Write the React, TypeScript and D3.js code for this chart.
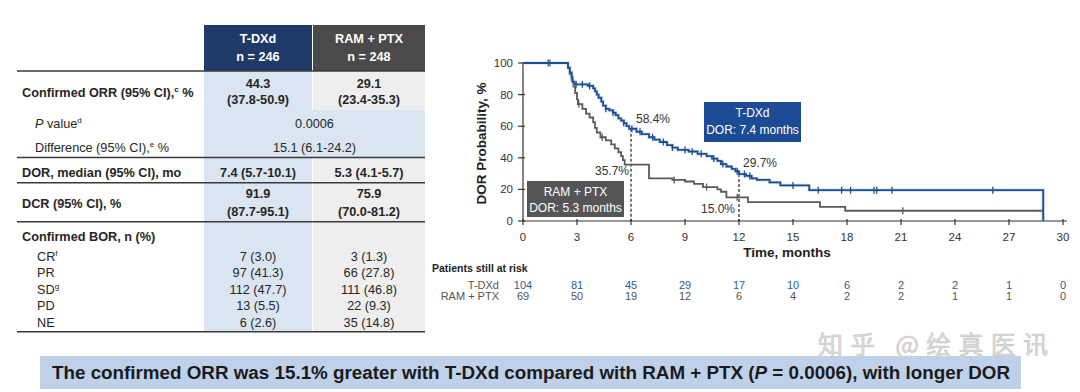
import React from "react";
import * as d3 from "d3";

// ---------- data ----------
const monthTicks = [0, 3, 6, 9, 12, 15, 18, 21, 24, 27, 30];
const probTicks = [0, 20, 40, 60, 80, 100];

// [time (months), DOR probability (%) after the step]
const tdxdSteps: [number, number][] = [
  [0, 100], [2.5, 97], [2.6, 94], [2.7, 91], [2.75, 88], [2.85, 86.5], [3.6, 85.5], [3.9, 84],
  [4.0, 82], [4.1, 80], [4.2, 78], [4.35, 75.5], [4.45, 73], [4.6, 71], [4.8, 70], [5.0, 68.5],
  [5.15, 67], [5.3, 65], [5.45, 63.5], [5.6, 62], [5.75, 60], [5.9, 58.4], [6.3, 56.5], [6.6, 55],
  [7.0, 53], [7.3, 51.5], [7.6, 50], [8.0, 48], [8.3, 46.5], [8.6, 45], [9.2, 44], [9.7, 42.5],
  [10.2, 41], [10.5, 39.5], [10.8, 38], [11.0, 36], [11.3, 34.5], [11.6, 33], [11.8, 31.5],
  [12.0, 29.7], [12.4, 28.5], [12.7, 27], [13.0, 26], [13.7, 24.5], [14.3, 22.5], [15.9, 19.5],
  [28.9, 0],
];
const ramSteps: [number, number][] = [
  [0, 100], [2.5, 97], [2.6, 93], [2.7, 89], [2.8, 85], [2.9, 81], [3.0, 77], [3.05, 74],
  [3.3, 71], [3.5, 68], [3.7, 65.5], [3.9, 62.5], [4.0, 59], [4.1, 56], [4.3, 53], [4.6, 51],
  [4.9, 48.5], [5.1, 46], [5.3, 43.5], [5.45, 41], [5.55, 38.5], [5.65, 35.7], [7.0, 27],
  [8.3, 26], [9.0, 25], [9.5, 23.5], [10.0, 21.5], [10.8, 20], [11.0, 18.5], [11.3, 15.0],
  [12.5, 12], [16.5, 9], [17.9, 6.5], [28.9, 6.5],
];
const tdxdCensor = [1.4, 2.95, 3.3, 3.7, 4.6, 5.0, 5.6, 6.05, 6.5, 7.2, 7.8, 8.3, 9.0, 9.4, 9.9,
  10.6, 11.1, 11.9, 12.3, 12.6, 15.0, 16.4, 17.7, 18.2, 19.5, 19.65, 20.5, 26.1];
const ramCensor = [1.5, 3.1, 4.4, 8.4, 10.2, 11.9, 21.1, 28.9];

const riskTdxd = [104, 81, 45, 29, 17, 10, 6, 2, 2, 1, 0];
const riskRam = [69, 50, 19, 12, 6, 4, 2, 2, 1, 1, 0];

const landmarks = [
  { t: 6, tdxd: 58.4, ram: 35.7 },
  { t: 12, tdxd: 29.7, ram: 15.0 },
];

const armHeaders = [
  { name: "T-DXd", n: "n = 246" },
  { name: "RAM + PTX", n: "n = 248" },
];
const orrValues = [["44.3", "(37.8-50.9)"], ["29.1", "(23.4-35.3)"]];
const pValue = "0.0006";
const orrDiff = "15.1 (6.1-24.2)";
const dorValues = ["7.4 (5.7-10.1)", "5.3 (4.1-5.7)"];
const dcrValues = [["91.9", "(87.7-95.1)"], ["75.9", "(70.0-81.2)"]];
const borRows = [
  { label: "CR", sup: "f", v: ["7 (3.0)", "3 (1.3)"] },
  { label: "PR", sup: "", v: ["97 (41.3)", "66 (27.8)"] },
  { label: "SD", sup: "g", v: ["112 (47.7)", "111 (46.8)"] },
  { label: "PD", sup: "", v: ["13 (5.5)", "22 (9.3)"] },
  { label: "NE", sup: "", v: ["6 (2.6)", "35 (14.8)"] },
];

// ---------- styles ----------
const FONT = "'Liberation Sans', Arial, Helvetica, sans-serif";
const NAVY = "#1f3a68";
const DARKGRAY = "#4a4a4a";
const BLUE = "#1f4f93";
const GRAY = "#5a5a5a";
const TXT = "#262626";

function survAt(steps: [number, number][], t: number) {
  let v = steps[0][1];
  for (const s of steps) {
    if (s[0] <= t) v = s[1];
    else break;
  }
  return v;
}

export default function App() {
  const x = d3.scaleLinear().domain([0, 30]).range([523, 1063]);
  const y = d3.scaleLinear().domain([0, 100]).range([221, 63]);
  const line = d3
    .line<[number, number]>()
    .x((d) => x(d[0]))
    .y((d) => y(d[1]))
    .curve(d3.curveStepAfter);

  // table geometry
  const c1 = [204, 312];
  const c2 = [313, 425];
  const cx = [(c1[0] + c1[1]) / 2, (c2[0] + c2[1]) / 2];
  const mergedCx = (c1[0] + c2[1]) / 2;
  const hLines = [71, 157.5, 182.7, 221.7, 331.7];
  const borY = [260.5, 277, 293.5, 310, 326.5];

  return (
    <svg
      width={1080}
      height={392}
      style={{ position: "absolute", left: 0, top: 0, display: "block", background: "#fff" }}
      fontFamily={FONT}
    >
      {/* ---------------- table ---------------- */}
      <rect x={c1[0]} y={71} width={c1[1] - c1[0]} height={261} fill="#dbe5f1" />
      <rect x={c2[0]} y={71} width={c2[1] - c2[0]} height={261} fill="#eeeeee" />
      <rect x={c1[0]} y={110} width={c2[1] - c1[0]} height={47.5} fill="#dbe5f1" />
      <rect x={c1[0]} y={25} width={c1[1] - c1[0]} height={46} fill={NAVY} />
      <rect x={c2[0]} y={25} width={c2[1] - c2[0]} height={46} fill={DARKGRAY} />
      {armHeaders.map((h, i) => (
        <g key={h.name} fill="#fff" fontWeight="bold" fontSize={12.7} textAnchor="middle">
          <text x={cx[i]} y={43}>{h.name}</text>
          <text x={cx[i]} y={60.5}>{h.n}</text>
        </g>
      ))}
      {hLines.map((ly) => (
        <line key={ly} x1={17} x2={425} y1={ly} y2={ly} stroke="#3a3a3a" strokeWidth={1.6} />
      ))}
      <g fill={TXT} fontSize={12.7}>
        <text x={22} y={97} fontWeight="bold">
          Confirmed ORR (95% CI),<tspan fontSize={8} dy={-5}>c</tspan>
          <tspan dy={5}> %</tspan>
        </text>
        <text x={35} y={127.5}>
          <tspan fontStyle="italic">P</tspan> value<tspan fontSize={8} dy={-5}>d</tspan>
        </text>
        <text x={35} y={151.5}>
          Difference (95% CI),<tspan fontSize={8} dy={-5}>e</tspan>
          <tspan dy={5}> %</tspan>
        </text>
        <text x={22} y={176.5} fontWeight="bold">DOR, median (95% CI), mo</text>
        <text x={22} y={207.5} fontWeight="bold">DCR (95% CI), %</text>
        <text x={22} y={240.5} fontWeight="bold">Confirmed BOR, n (%)</text>
        {borRows.map((r, i) => (
          <text key={r.label} x={37} y={borY[i]}>
            {r.label}
            {r.sup ? <tspan fontSize={8} dy={-5}>{r.sup}</tspan> : null}
          </text>
        ))}
      </g>
      <g fill={TXT} fontSize={12.7} textAnchor="middle">
        {orrValues.map((v, i) => (
          <g key={"orr" + i} fontWeight="bold">
            <text x={cx[i]} y={87.5}>{v[0]}</text>
            <text x={cx[i]} y={103.5}>{v[1]}</text>
          </g>
        ))}
        <text x={mergedCx} y={127.5}>{pValue}</text>
        <text x={mergedCx} y={151.5}>{orrDiff}</text>
        {dorValues.map((v, i) => (
          <text key={"dor" + i} x={cx[i]} y={176.5} fontWeight="bold">{v}</text>
        ))}
        {dcrValues.map((v, i) => (
          <g key={"dcr" + i} fontWeight="bold">
            <text x={cx[i]} y={197.5}>{v[0]}</text>
            <text x={cx[i]} y={215.5}>{v[1]}</text>
          </g>
        ))}
        {borRows.map((r, j) =>
          r.v.map((v, i) => (
            <text key={r.label + i} x={cx[i]} y={borY[j]}>{v}</text>
          ))
        )}
      </g>

      {/* ---------------- KM chart ---------------- */}
      <g stroke="#333" strokeWidth={1.2}>
        <line x1={x(0)} x2={x(0)} y1={y(0)} y2={y(100)} />
        <line x1={x(0)} x2={x(30) + 4} y1={y(0)} y2={y(0)} />
        {probTicks.map((t) => (
          <line key={"yt" + t} x1={x(0) - 5} x2={x(0) + 2} y1={y(t)} y2={y(t)} />
        ))}
        {monthTicks.map((t) => (
          <line key={"xt" + t} x1={x(t)} x2={x(t)} y1={y(0) - 2} y2={y(0) + 4} />
        ))}
      </g>
      <g fontSize={11.5} fill="#333">
        {probTicks.map((t) => (
          <text key={"yl" + t} x={513} y={y(t) + 4} textAnchor="end">{t}</text>
        ))}
        {monthTicks.map((t) => (
          <text key={"xl" + t} x={x(t)} y={241} textAnchor="middle">{t}</text>
        ))}
      </g>
      <text
        transform="translate(486,143.5) rotate(-90)"
        textAnchor="middle"
        fontWeight="bold"
        fontSize={13.5}
        fill="#222"
      >
        DOR Probability, %
      </text>
      <text x={787} y={257} textAnchor="middle" fontWeight="bold" fontSize={13.5} fill="#222">
        Time, months
      </text>

      {/* landmark dashed lines */}
      {landmarks.map((m) => (
        <line
          key={"lm" + m.t}
          x1={x(m.t)}
          x2={x(m.t)}
          y1={y(m.tdxd)}
          y2={y(0)}
          stroke="#222"
          strokeWidth={1.2}
          strokeDasharray="3,2"
        />
      ))}

      {/* curves */}
      <path d={line(ramSteps) || ""} fill="none" stroke={GRAY} strokeWidth={1.8} />
      {ramCensor.map((t) => (
        <line
          key={"rc" + t}
          x1={x(t)}
          x2={x(t)}
          y1={y(survAt(ramSteps, t)) - 3.5}
          y2={y(survAt(ramSteps, t)) + 3.5}
          stroke={GRAY}
          strokeWidth={1.3}
        />
      ))}
      <path d={line(tdxdSteps) || ""} fill="none" stroke="#9fb9dc" strokeWidth={3.2} opacity={0.5} />
      <path d={line(tdxdSteps) || ""} fill="none" stroke={BLUE} strokeWidth={1.8} />
      {tdxdCensor.map((t) => (
        <line
          key={"tc" + t}
          x1={x(t)}
          x2={x(t)}
          y1={y(survAt(tdxdSteps, t)) - 3.5}
          y2={y(survAt(tdxdSteps, t)) + 3.5}
          stroke={BLUE}
          strokeWidth={1.3}
        />
      ))}

      {/* landmark labels */}
      <g fontSize={12} fill="#333">
        <text x={x(6) + 5} y={123}>{landmarks[0].tdxd.toFixed(1)}%</text>
        <text x={x(6) - 2} y={175} textAnchor="end">{landmarks[0].ram.toFixed(1)}%</text>
        <text x={x(12) + 4} y={167}>{landmarks[1].tdxd.toFixed(1)}%</text>
        <text x={x(12) - 4} y={213} textAnchor="end">{landmarks[1].ram.toFixed(1)}%</text>
      </g>

      {/* arm boxes */}
      <rect x={704} y={102} width={97} height={40} fill="#1a4b94" />
      <g fill="#fff" fontSize={12} textAnchor="middle">
        <text x={752.5} y={117}>T-DXd</text>
        <text x={752.5} y={134}>DOR: 7.4 months</text>
      </g>
      <rect x={527} y={181} width={97} height={36} fill="#555" />
      <g fill="#fff" fontSize={12} textAnchor="middle">
        <text x={575.5} y={196}>RAM + PTX</text>
        <text x={575.5} y={212}>DOR: 5.3 months</text>
      </g>

      {/* risk table */}
      <text x={432} y={272} fontWeight="bold" fontSize={10.5} fill="#222">
        Patients still at risk
      </text>
      <g fontSize={11} fill="#555" textAnchor="end">
        <text x={499} y={289}>T-DXd</text>
        <text x={499} y={300}>RAM + PTX</text>
      </g>
      <g fontSize={11} textAnchor="middle">
        {riskTdxd.map((v, i) => (
          <text key={"rt" + i} x={x(monthTicks[i])} y={289} fill="#2d5b9a">{v}</text>
        ))}
        {riskRam.map((v, i) => (
          <text key={"rr" + i} x={x(monthTicks[i])} y={300} fill="#555">{v}</text>
        ))}
      </g>

      {/* watermark (behind banner text) */}
      <text
        x={818}
        y={354}
        fontFamily="'Noto Sans CJK SC', sans-serif"
        fontSize={25}
        fill="#d6d6d6"
        stroke="#c4c4c4"
        strokeWidth={0.6}
        textLength={230}
        lengthAdjust="spacing"
        opacity={0.9}
      >
        知乎 @绘真医讯
      </text>

      {/* bottom banner */}
      <rect x={40} y={356} width={981} height={33} fill="#bfd1e9" />
      <text
        x={531}
        y={379}
        textAnchor="middle"
        fontFamily="'Liberation Sans Narrow', 'Arial Narrow', 'Liberation Sans', Arial, sans-serif"
        fontWeight="bold"
        fontSize={17.5}
        fill="#1a1a1a"
        textLength={958}
        lengthAdjust="spacingAndGlyphs"
      >
        The confirmed ORR was 15.1% greater with T-DXd compared with RAM + PTX (<tspan fontStyle="italic">P</tspan> = 0.0006), with longer DOR
      </text>
    </svg>
  );
}
